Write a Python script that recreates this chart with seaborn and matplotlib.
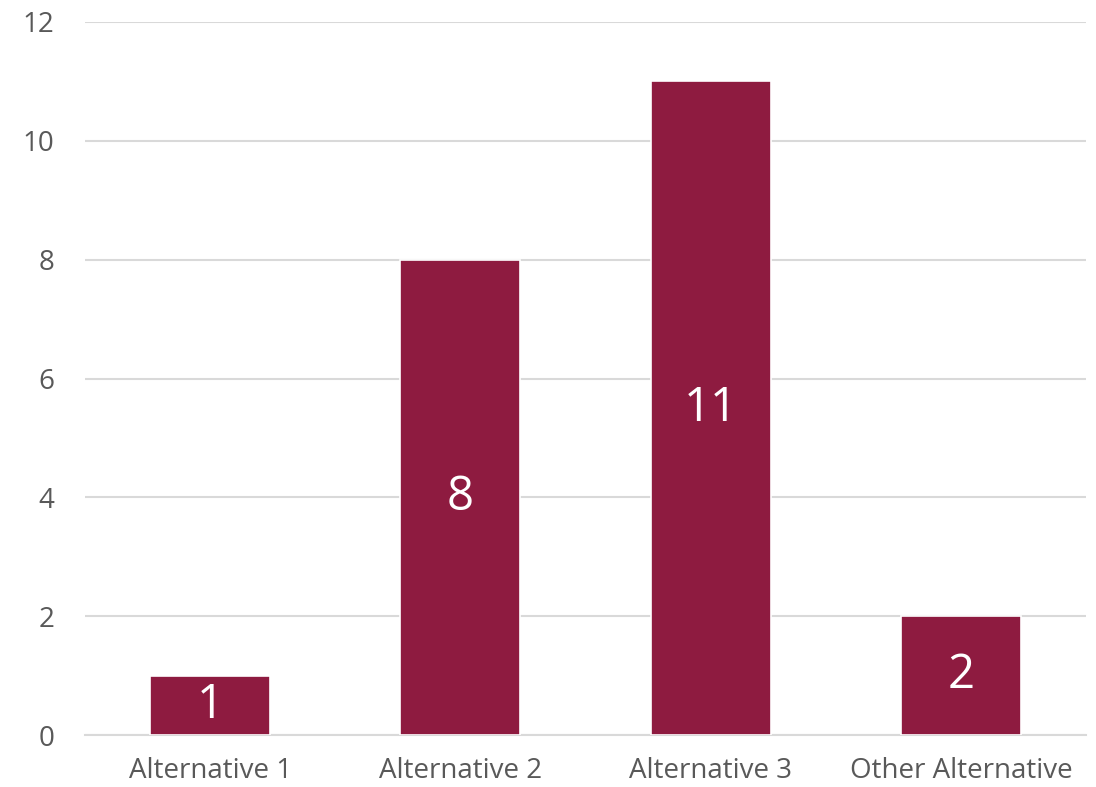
import matplotlib
matplotlib.use("Agg")
import matplotlib.pyplot as plt
import seaborn as sns
import pandas as pd

categories = ["Alternative 1", "Alternative 2", "Alternative 3", "Other Alternative"]
values = [1, 8, 11, 2]
yticks = [0, 2, 4, 6, 8, 10, 12]

sns.set_theme(style="white")
plt.rcParams['font.family'] = ['Open Sans', 'DejaVu Sans']

df = pd.DataFrame({"cat": categories, "val": values})

fig = plt.figure(figsize=(10.96, 7.87), dpi=100)
ax = fig.add_axes([85/1096, 1 - 735/787, (1086-85)/1096, (735-22)/787])

sns.barplot(data=df, x="cat", y="val", color="#8E1B40", width=0.48,
            edgecolor="white", linewidth=1.2, saturation=1, ax=ax, zorder=3)

ax.set_xlim(-0.5, len(categories) - 0.5)
ax.set_ylim(0, 12)
ax.set_yticks(yticks)
ax.set_yticklabels([str(t) for t in yticks])
ax.grid(axis="y", color="#D9D9D9", linewidth=1.5, zorder=0)
ax.set_axisbelow(True)
for s in ["top", "right", "left"]:
    ax.spines[s].set_visible(False)
ax.spines["bottom"].set_color("#D9D9D9")
ax.spines["bottom"].set_linewidth(1.5)
ax.set_xlabel("")
ax.set_ylabel("")

ax.tick_params(axis="x", which="major", length=0, pad=16, labelsize=20, labelcolor="#595959")
ax.tick_params(axis="y", length=0, pad=22, labelsize=20, labelcolor="#595959")
ax.set_xticks([i - 0.5 for i in range(len(categories) + 1)], minor=True)
ax.tick_params(axis="x", which="minor", length=7, width=1.5, color="#D9D9D9", direction="out")

for i, v in enumerate(values):
    ax.text(i, v / 2, str(v), ha="center", va="center", color="white", fontsize=34, zorder=5)

fig.savefig("out.png", dpi=100)
